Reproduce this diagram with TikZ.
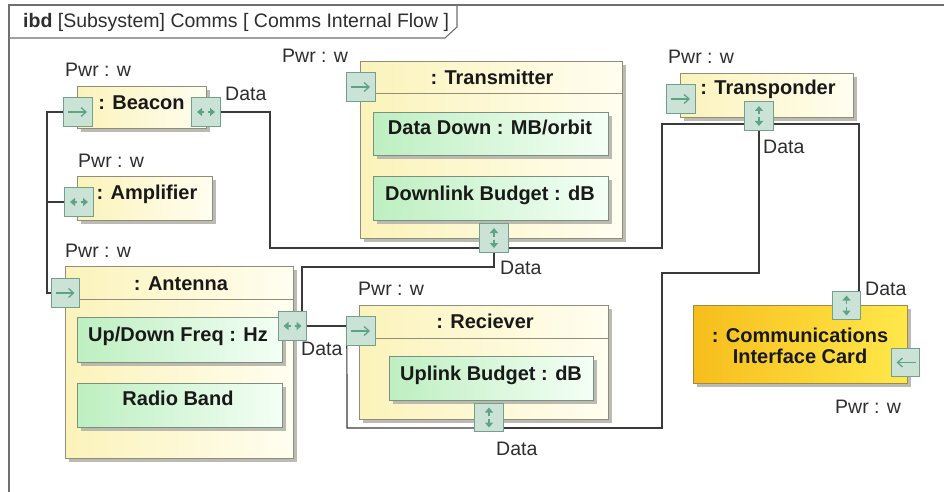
\documentclass[tikz,border=0pt]{standalone}
\usepackage{fontspec}
\setmainfont{Liberation Sans}
\usetikzlibrary{arrows.meta,shadows,calc}

\definecolor{framegray}{HTML}{707070}
\definecolor{wirecol}{HTML}{3A3A3A}
\definecolor{partedge}{HTML}{8E8E7A}
\definecolor{partL}{HTML}{FBF3BA}
\definecolor{partR}{HTML}{FFFEF0}
\definecolor{valueedge}{HTML}{7E8E80}
\definecolor{valueL}{HTML}{BDEFC0}
\definecolor{valueR}{HTML}{F4FFF6}
\definecolor{cardL}{HTML}{F6BE1C}
\definecolor{cardR}{HTML}{FFE84A}
\definecolor{cardedge}{HTML}{A08A48}
\definecolor{shadecol}{HTML}{B4B4AC}
\definecolor{portfill}{HTML}{CBE2D6}
\definecolor{portedge}{HTML}{72A08C}
\definecolor{glyphcol}{HTML}{5EA484}
\definecolor{labelcol}{HTML}{2E2E2E}

% glyphs drawn inside the ports
\newcommand\glyphIn[1]{\draw[glyph,-{Straight Barb[length=5pt,width=9pt]}] ($(#1)+(-10,0)$) -- ($(#1)+(9,0)$);}
\newcommand\glyphOut[1]{\draw[glyph,-{Straight Barb[length=5pt,width=9pt]}] ($(#1)+(10,0)$) -- ($(#1)+(-9,0)$);}
\newcommand\glyphBi[1]{%
  \draw[glyph,-{Triangle[length=5pt,width=8pt]}] ($(#1)+(-2,0)$) -- ($(#1)+(-9,0)$);
  \draw[glyph,-{Triangle[length=5pt,width=8pt]}] ($(#1)+(2,0)$) -- ($(#1)+(9,0)$);}
\newcommand\glyphUD[1]{%
  \draw[glyph,-{Triangle[length=5pt,width=8pt]}] ($(#1)+(0,-1.5)$) -- ($(#1)+(0,-10)$);
  \draw[glyph,-{Triangle[length=5pt,width=8pt]}] ($(#1)+(0,1.5)$) -- ($(#1)+(0,10)$);}

\begin{document}
\begin{tikzpicture}[x=1pt,y=-1pt,
  frameline/.style={draw=framegray,line width=1.4pt},
  wire/.style={draw=wirecol,line width=1.2pt},
  partbox/.style={draw=partedge,line width=0.9pt,left color=partL,right color=partR,
    anchor=north west,inner sep=0pt,
    drop shadow={shadow xshift=4pt,shadow yshift=-4pt,fill=shadecol,opacity=0.9}},
  valuebox/.style={draw=valueedge,line width=0.9pt,left color=valueL,right color=valueR,
    anchor=north west,inner sep=0pt,
    drop shadow={shadow xshift=4pt,shadow yshift=-4pt,fill=shadecol,opacity=0.9}},
  cardbox/.style={draw=cardedge,line width=0.9pt,left color=cardL,right color=cardR,
    anchor=north west,inner sep=0pt,
    drop shadow={shadow xshift=4pt,shadow yshift=-4pt,fill=shadecol,opacity=0.9}},
  hdrline/.style={draw=partedge,line width=0.9pt},
  glyph/.style={draw=glyphcol,fill=glyphcol,line width=1.3pt},
  title/.style={anchor=base,inner sep=0pt,font=\fontsize{20}{24}\selectfont\bfseries,text=black!90},
  lbl/.style={anchor=base west,inner sep=0pt,font=\fontsize{19.5}{23}\selectfont,text=labelcol},
]
\useasboundingbox (0,0) rectangle (944,492);
\fill[white] (0,0) rectangle (944,492);

% diagram frame and its name tab
\draw[frameline] (9,492) -- (9,5) -- (944,5);
\draw[draw=framegray,line width=1.1pt] (9,38) -- (445,38) -- (457,27) -- (457,5);
\node[lbl] (frametitle) at (23,28) {\textbf{ibd} [Subsystem] Comms [ Comms Internal Flow ]};

% bend points of the connectors
\coordinate (busX) at (47,0);
\coordinate (k1) at (270,248);
\coordinate (k2) at (662,248);
\coordinate (k3) at (662,124);
\coordinate (k4) at (859,124);
\coordinate (k5) at (302,267);
\coordinate (k6) at (347,428);
\coordinate (k7) at (662,428);
\coordinate (k8) at (662,273);

% port positions (drawn last, above wires and parts)
\path[every node/.style={minimum size=28pt,inner sep=0pt}]
  node (bcnP) at (78,112) {} node (bcnD) at (206,112) {}
  node (ampP) at (79,202) {} node (antP) at (65.5,293) {}
  node (antD) at (292.5,326) {} node (txP) at (361,87) {}
  node (txD) at (494,238) {} node (trP) at (681,99) {}
  node (trD) at (759,116) {} node (rxP) at (361,331) {}
  node (rxD) at (489,417.5) {} node (cicD) at (846.5,305.5) {}
  node (cicP) at (905.5,362.5) {};

% connectors
\draw[wire] (bcnP.west) -- (bcnP.west -| busX) -- (antP.west -| busX) -- (antP.west);
\draw[wire] (ampP.west) -- (ampP.west -| busX);
\draw[wire] (bcnD.east) -| (k1) -- (txD.west |- k1);
\draw[wire] (txD.east |- k1) -- (k2) -- (k3) -- (trD.west |- k3);
\draw[wire] (trD.east |- k3) -- (k4) -- (cicD.north -| k4);
\draw[wire] (antD.north -| k5) -- (k5) -| (txD.south);
\draw[wire] (antD.east) -- (antD.east -| rxP.west);
\draw[wire] (antD.east -| rxP.west) -- (k6) -- (rxD.west |- k6);
\draw[wire] (rxD.east |- k6) -- (k7) -- (k8) -| (trD.south);

% parts
\node[partbox,minimum width=129pt,minimum height=42pt] (bcn) at (77,86) {};
\node[title] (bcnT) at (141.5,110) {: Beacon};

\node[partbox,minimum width=135pt,minimum height=44pt] (amp) at (77,176) {};
\node[title] (ampT) at (147,199) {: Amplifier};

\node[partbox,minimum width=228pt,minimum height=192pt] (ant) at (65,266) {};
\draw[hdrline] ($(ant.north west)+(0,33)$) -- ($(ant.north east)+(0,33)$);
\node[title] (antT) at (181,290) {: Antenna};
\node[valuebox,minimum width=205pt,minimum height=45pt] (antF) at (77,317) {};
\node[title] (antFT) at (178,341) {Up/Down Freq : Hz};
\node[valuebox,minimum width=205pt,minimum height=44pt] (antR) at (77,383) {};
\node[title] (antRT) at (178,405) {Radio Band};

\node[partbox,minimum width=262pt,minimum height=177pt] (tx) at (360,61) {};
\draw[hdrline] ($(tx.north west)+(0,32)$) -- ($(tx.north east)+(0,32)$);
\node[title] (txT) at (492,85) {: Transmitter};
\node[valuebox,minimum width=235pt,minimum height=43pt] (txA) at (373,112) {};
\node[title] (txAT) at (490,135) {Data Down : MB/orbit};
\node[valuebox,minimum width=235pt,minimum height=44pt] (txB) at (373,176) {};
\node[title] (txBT) at (490,200) {Downlink Budget : dB};

\node[partbox,minimum width=173pt,minimum height=44pt] (tr) at (680,73) {};
\node[title] (trT) at (768,95) {: Transponder};

\node[partbox,minimum width=249pt,minimum height=114pt] (rx) at (359,305) {};
\draw[hdrline] ($(rx.north west)+(0,33)$) -- ($(rx.north east)+(0,33)$);
\node[title] (rxT) at (485,328) {: Reciever};
\node[valuebox,minimum width=204pt,minimum height=44pt] (rxA) at (389,356) {};
\node[title] (rxAT) at (491,380) {Uplink Budget : dB};

\node[cardbox,minimum width=214pt,minimum height=78pt] (cic) at (693,305) {};
\node[title] (cicT1) at (800,342) {: Communications};
\node[title] (cicT2) at (800,363) {Interface Card};

% ports
\foreach \p in {bcnP,bcnD,ampP,antP,antD,txP,txD,trP,trD,rxP,rxD,cicD,cicP}
  \draw[draw=portedge,fill=portfill,line width=0.9pt]
    (\p.north west) rectangle (\p.south east);
\glyphIn{bcnP}
\glyphBi{bcnD}
\glyphBi{ampP}
\glyphIn{antP}
\glyphBi{antD}
\glyphIn{txP}
\glyphUD{txD}
\glyphIn{trP}
\glyphUD{trD}
\glyphIn{rxP}
\glyphUD{rxD}
\glyphUD{cicD}
\glyphOut{cicP}

% port labels
\node[lbl] (bcnPL) at (65,77) {Pwr : w};
\node[lbl] (bcnDL) at (225,101) {Data};
\node[lbl] (ampPL) at (78,167) {Pwr : w};
\node[lbl] (antPL) at (65,257) {Pwr : w};
\node[lbl] (antDL) at (301,355) {Data};
\node[lbl] (txPL) at (282,63) {Pwr : w};
\node[lbl] (txDL) at (500,274) {Data};
\node[lbl] (trPL) at (668,64) {Pwr : w};
\node[lbl] (trDL) at (763,153) {Data};
\node[lbl] (rxPL) at (358,295) {Pwr : w};
\node[lbl] (rxDL) at (496,455) {Data};
\node[lbl] (cicDL) at (865,295) {Data};
\node[lbl] (cicPL) at (835,413) {Pwr : w};
\end{tikzpicture}
\end{document}
